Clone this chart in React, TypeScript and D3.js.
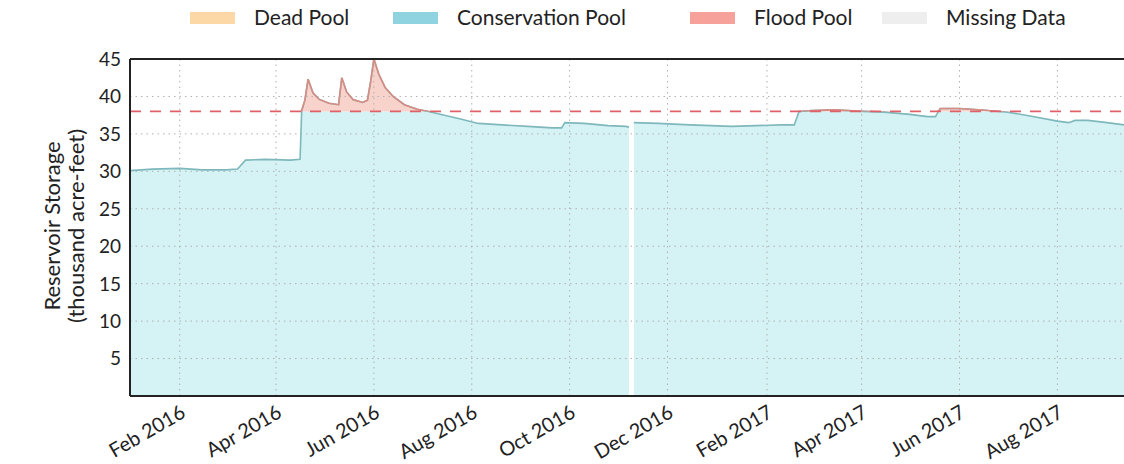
import * as d3 from 'd3';

// storage readings (thousand acre-feet), null = missing
const dates = [
  '2016-01-01', '2016-01-15', '2016-02-01', '2016-02-15', '2016-03-01', '2016-03-08',
  '2016-03-13', '2016-03-25', '2016-04-10', '2016-04-16', '2016-04-17', '2016-04-19',
  '2016-04-21', '2016-04-24', '2016-04-28', '2016-05-04', '2016-05-10', '2016-05-12',
  '2016-05-15', '2016-05-19', '2016-05-25', '2016-05-28', '2016-05-30', '2016-06-01',
  '2016-06-04', '2016-06-08', '2016-06-13', '2016-06-20', '2016-06-28', '2016-07-05',
  '2016-07-15', '2016-07-25', '2016-08-05', '2016-08-20', '2016-09-05', '2016-09-20',
  '2016-09-26', '2016-09-28', '2016-10-10', '2016-10-25', '2016-11-05', '2016-11-07',
  '2016-11-08', '2016-11-09', '2016-11-10', '2016-11-25', '2016-12-15', '2017-01-10',
  '2017-01-25', '2017-02-10', '2017-02-18', '2017-02-21', '2017-03-01', '2017-03-15',
  '2017-04-01', '2017-04-15', '2017-05-01', '2017-05-12', '2017-05-17', '2017-05-20',
  '2017-06-01', '2017-06-15', '2017-07-01', '2017-07-15', '2017-08-01', '2017-08-08',
  '2017-08-12', '2017-08-20', '2017-09-01', '2017-09-15', '2017-09-30',
];
const storage = [
  30.1, 30.3, 30.4, 30.2, 30.2, 30.3,
  31.5, 31.6, 31.5, 31.6, 38.1, 39.5,
  42.3, 40.5, 39.6, 39.1, 38.9, 42.5,
  40.6, 39.6, 39.2, 39.5, 42.0, 45.0,
  43.0, 41.2, 40.0, 38.9, 38.3, 38.0,
  37.5, 37.0, 36.4, 36.2, 36.0, 35.8,
  35.8, 36.5, 36.4, 36.1, 36.0, 35.9,
  null, null, 36.5, 36.4, 36.2, 36.0,
  36.1, 36.2, 36.2, 38.0, 38.1, 38.2,
  38.0, 37.9, 37.6, 37.3, 37.3, 38.4,
  38.4, 38.2, 37.9, 37.4, 36.7, 36.5,
  36.8, 36.8, 36.5, 36.1, 35.9,
];
const floodPool = 38.0;

const yTicks = [5, 10, 15, 20, 25, 30, 35, 40, 45];
const xTickDates = [
  '2016-02-01', '2016-04-01', '2016-06-01', '2016-08-01', '2016-10-01',
  '2016-12-01', '2017-02-01', '2017-04-01', '2017-06-01', '2017-08-01',
];
const legendLabels = ['Dead Pool', 'Conservation Pool', 'Flood Pool', 'Missing Data'];
const legendColors = ['#fcd8a6', '#8fd3e0', '#f6a29b', '#eeeeee'];

const FONT = 'Lato, "Open Sans", sans-serif';

export default function App() {
  const W = 1124;
  const H = 464;
  const left = 130;
  const top = 59;
  const bottom = 396;
  const right = 1160;

  const parse = d3.utcParse('%Y-%m-%d');
  const data = dates.map((d, i) => ({ date: parse(d) as Date, v: storage[i] }));

  const x = d3
    .scaleUtc()
    .domain([parse('2016-01-01') as Date, parse('2017-10-01') as Date])
    .range([left, 130 + 639 * 1.6045]);
  const y = d3.scaleLinear().domain([0, 45]).range([bottom, top]);

  const defined = (d: any) => d.v != null;

  const consArea = d3
    .area<any>()
    .defined(defined)
    .x((d) => x(d.date))
    .y0(y(0))
    .y1((d) => y(Math.min(d.v, floodPool)));

  const floodArea = d3
    .area<any>()
    .defined(defined)
    .x((d) => x(d.date))
    .y0(y(floodPool))
    .y1((d) => y(Math.max(d.v, floodPool)));

  const line = d3
    .line<any>()
    .defined(defined)
    .x((d) => x(d.date))
    .y((d) => y(d.v));

  const fmt = d3.utcFormat('%b %Y');
  const legendX = [190, 393, 690, 882];

  return (
    <svg width={W} height={H} style={{ position: 'absolute', left: 0, top: 0 }} fontFamily={FONT}>
      <defs>
        <clipPath id="plot">
          <rect x={left} y={top} width={right - left} height={bottom - top} />
        </clipPath>
        <clipPath id="above">
          <rect x={left} y={top - 5} width={right - left} height={y(floodPool) - top + 5} />
        </clipPath>
      </defs>

      {/* legend */}
      {legendLabels.map((l, i) => (
        <g key={l}>
          <rect x={legendX[i]} y={12} width={45} height={12} fill={legendColors[i]} />
          <text x={legendX[i] + 64} y={25} fontSize={21} fill="#222">
            {l}
          </text>
        </g>
      ))}

      <g clipPath="url(#plot)">
        <path d={consArea(data) as string} fill="#d5f3f5" />
        <path d={floodArea(data) as string} fill="#f8d3cb" />

        {/* grid */}
        {yTicks.slice(0, -1).map((t) => (
          <line
            key={t}
            x1={left}
            x2={right}
            y1={y(t)}
            y2={y(t)}
            stroke="#b0b0b0"
            strokeWidth={1}
            strokeDasharray="1.5,4"
          />
        ))}
        {xTickDates.map((t) => {
          const xx = x(parse(t) as Date);
          return (
            <line
              key={t}
              x1={xx}
              x2={xx}
              y1={top}
              y2={bottom}
              stroke="#b0b0b0"
              strokeWidth={1}
              strokeDasharray="1.5,4"
            />
          );
        })}

        <path d={line(data) as string} fill="none" stroke="#7eb8bc" strokeWidth={1.6} />
        <path
          d={line(data) as string}
          fill="none"
          stroke="#d98b82"
          strokeWidth={1.6}
          clipPath="url(#above)"
        />
        <line
          x1={left}
          x2={right}
          y1={y(floodPool)}
          y2={y(floodPool)}
          stroke="#e0606a"
          strokeWidth={1.6}
          strokeDasharray="11,9"
        />
      </g>

      {/* frame */}
      <line x1={left} x2={W} y1={top} y2={top} stroke="#222" strokeWidth={2} />
      <line x1={left} x2={W} y1={bottom} y2={bottom} stroke="#222" strokeWidth={2} />
      <line x1={left} x2={left} y1={top} y2={bottom} stroke="#222" strokeWidth={2} />

      {/* y ticks */}
      {yTicks.map((t) => (
        <text key={t} x={121} y={y(t)} dy="0.36em" textAnchor="end" fontSize={19} fill="#222">
          {t}
        </text>
      ))}

      {/* x ticks */}
      {xTickDates.map((t) => {
        const d = parse(t) as Date;
        return (
          <text
            key={t}
            transform={`translate(${x(d)},${bottom + 8}) rotate(-30)`}
            dy="0.71em"
            textAnchor="end"
            fontSize={20}
            fill="#222"
          >
            {fmt(d)}
          </text>
        );
      })}

      <text transform={`translate(60,226) rotate(-90)`} textAnchor="middle" fontSize={22} fill="#222">
        Reservoir Storage
      </text>
      <text transform={`translate(84,226) rotate(-90)`} textAnchor="middle" fontSize={22} fill="#222">
        (thousand acre-feet)
      </text>
    </svg>
  );
}
